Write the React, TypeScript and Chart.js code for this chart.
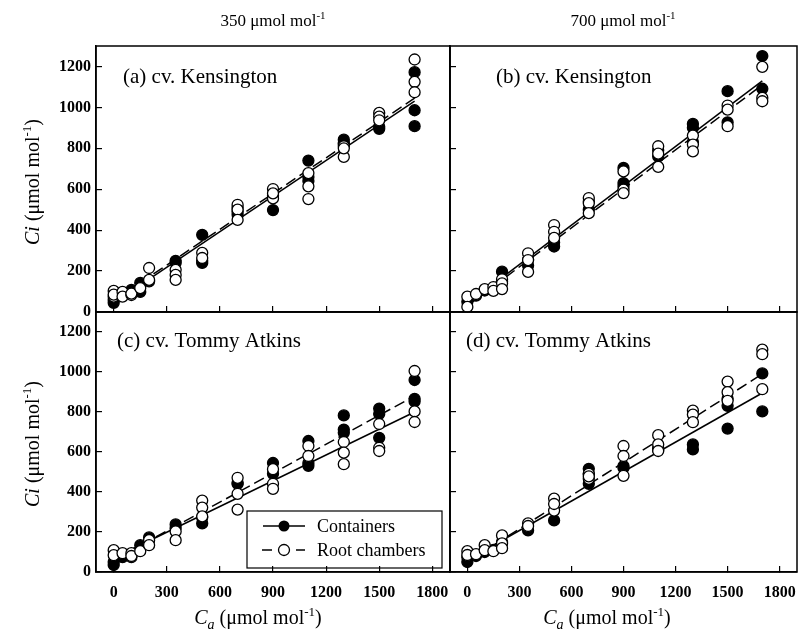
import React, { useEffect, useRef } from 'react';
import { Chart, registerables } from 'chart.js';

Chart.register(...registerables);

const W = 809;
const H = 638;
const FONT = "'Liberation Serif', 'Times New Roman', Times, serif";

// ---------- data ----------
const caLevels = [0, 50, 100, 150, 200, 350, 500, 700, 900, 1100, 1300, 1500, 1700];
const xTicks = [0, 300, 600, 900, 1200, 1500, 1800];
const yTicks = [0, 200, 400, 600, 800, 1000, 1200];
const seriesNames = ['Containers', 'Root chambers'];
const panelTitles = ['(a) cv. Kensington', '(b) cv. Kensington', '(c) cv. Tommy Atkins', '(d) cv. Tommy Atkins'];
const columnHeads = ['350', '700'];

// replicate Ci values per Ca level (same order as caLevels)
const aContainers = [[59, 45], [83], [108, 95], [142, 98], [150], [250, 240], [377, 240, 250], [475, 490, 510], [498, 570], [740, 640, 660], [842, 826, 820], [895, 905], [1172, 986, 908]];
const aRoots = [[103, 75, 85], [98, 75], [83, 90], [117], [215, 157], [206, 181, 157], [289, 264], [524, 500, 450], [601, 555, 580], [679, 614, 552], [810, 758, 800], [973, 955, 937], [1234, 1125, 1074]];
const bContainers = [[50], [80], [105], [110], [197, 150], [227, 255], [320, 340], [500, 540], [704, 630, 615], [790, 760], [919, 900, 830], [1079, 927], [1251, 1091]];
const bRoots = [[75, 25], [88], [112], [122, 103], [160, 140, 112], [287, 254, 196], [425, 392, 362], [557, 532, 483], [687, 598, 581], [810, 774, 709], [862, 818, 785], [1009, 989, 908], [1198, 1046, 1030]];
const cContainers = [[50, 35], [74], [74], [134], [173], [238, 220], [273, 243], [446, 440], [545, 491], [655, 531, 545], [783, 712, 696], [817, 790, 671], [960, 866, 853]];
const cRoots = [[109, 84], [94], [94, 80], [104], [159, 134], [203, 159], [357, 322, 278], [471, 391, 312], [514, 441, 416], [630, 580], [650, 597, 539], [740, 621, 605], [1005, 803, 750]];
const dContainers = [[74, 50], [80], [100], [110], [150], [208], [258], [516, 441, 489], [530, 520], [620, 610], [638, 613], [866, 831, 717], [993, 803]];
const dRoots = [[104, 85], [89], [134, 109], [104], [183, 143, 119], [243, 230], [367, 307, 340], [491, 466, 478], [630, 580, 481], [684, 638, 605], [807, 787, 749], [952, 899, 856], [1112, 1089, 914]];

// regression line end values at fitX
const fitX = [0, 1700];
const aFitContainers = [45, 1030];
const aFitRoots = [55, 1045];
const bFitContainers = [40, 1130];
const bFitRoots = [30, 1110];
const cFitContainers = [70, 800];
const cFitRoots = [60, 880];
const dFitContainers = [60, 895];
const dFitRoots = [50, 990];

// ---------- helpers ----------
function toPoints(reps: number[][]) {
  const pts: { x: number; y: number }[] = [];
  reps.forEach((vals, i) => vals.forEach((v) => pts.push({ x: caLevels[i], y: v })));
  return pts;
}
function toLine(ends: number[]) {
  return fitX.map((x, i) => ({ x, y: ends[i] }));
}

const panels = [
  { title: panelTitles[0], containers: aContainers, roots: aRoots, fitC: aFitContainers, fitR: aFitRoots },
  { title: panelTitles[1], containers: bContainers, roots: bRoots, fitC: bFitContainers, fitR: bFitRoots },
  { title: panelTitles[2], containers: cContainers, roots: cRoots, fitC: cFitContainers, fitR: cFitRoots },
  { title: panelTitles[3], containers: dContainers, roots: dRoots, fitC: dFitContainers, fitR: dFitRoots },
];

const layouts = [
  { left: 96, right: 450, top: 46, bottom: 312, yLabels: true, xLabels: false, dx: 27, dy: 37, legend: false },
  { left: 450, right: 797, top: 46, bottom: 312, yLabels: false, xLabels: false, dx: 46, dy: 37, legend: false },
  { left: 96, right: 450, top: 312, bottom: 572, yLabels: true, xLabels: true, dx: 21, dy: 35, legend: true },
  { left: 450, right: 797, top: 312, bottom: 572, yLabels: false, xLabels: true, dx: 16, dy: 35, legend: false },
];

const framePlugin = {
  id: 'frame',
  afterDatasetsDraw(chart: any) {
    const { ctx, chartArea: a } = chart;
    ctx.save();
    ctx.strokeStyle = '#000';
    ctx.lineWidth = 1.5;
    ctx.strokeRect(a.left, a.top, a.right - a.left, a.bottom - a.top);
    ctx.restore();
  },
};

const titlePlugin = {
  id: 'panelTitle',
  afterDraw(chart: any, _args: any, opts: any) {
    const { ctx, chartArea: a } = chart;
    ctx.save();
    ctx.font = `21px ${FONT}`;
    ctx.fillStyle = '#000';
    ctx.textBaseline = 'alphabetic';
    ctx.textAlign = 'left';
    ctx.fillText(opts.text, a.left + opts.dx, a.top + opts.dy);
    ctx.restore();
  },
};

const boxLegendPlugin = {
  id: 'boxLegend',
  afterDraw(chart: any, _args: any, opts: any) {
    if (!opts.show) return;
    const { ctx, chartArea: a } = chart;
    const bx = a.right - 203;
    const by = a.bottom - 61;
    const bw = 195;
    const bh = 57;
    ctx.save();
    ctx.strokeStyle = '#000';
    ctx.lineWidth = 1.2;
    ctx.strokeRect(bx, by, bw, bh);
    ctx.font = `18px ${FONT}`;
    ctx.fillStyle = '#000';
    ctx.textBaseline = 'middle';
    ctx.textAlign = 'left';
    // row 1: solid + filled
    const y1 = by + 15;
    ctx.lineWidth = 1.5;
    ctx.beginPath();
    ctx.moveTo(bx + 16, y1);
    ctx.lineTo(bx + 58, y1);
    ctx.stroke();
    ctx.beginPath();
    ctx.arc(bx + 37, y1, 5.5, 0, Math.PI * 2);
    ctx.fillStyle = '#000';
    ctx.fill();
    ctx.fillText(seriesNames[0], bx + 70, y1 + 1);
    // row 2: dashed + open
    const y2 = by + 39;
    ctx.beginPath();
    ctx.moveTo(bx + 15, y2);
    ctx.lineTo(bx + 25, y2);
    ctx.moveTo(bx + 49, y2);
    ctx.lineTo(bx + 58, y2);
    ctx.stroke();
    ctx.beginPath();
    ctx.arc(bx + 37, y2, 5.5, 0, Math.PI * 2);
    ctx.fillStyle = '#fff';
    ctx.fill();
    ctx.lineWidth = 1.3;
    ctx.stroke();
    ctx.fillStyle = '#000';
    ctx.fillText(seriesNames[1], bx + 70, y2 + 1);
    ctx.restore();
  },
};

const Y_W = 50;
const X_H = 40;

function buildConfig(p: any, l: any): any {
  const tickFont = { family: FONT, size: 16, weight: 'bold' };
  const grid = { drawOnChartArea: false, drawTicks: true, tickLength: -6, color: '#000', lineWidth: 1.2 };
  const border = { display: true, color: '#000', width: 1.5 };
  return {
    type: 'scatter',
    data: {
      datasets: [
        { label: seriesNames[1], data: toPoints(p.roots), pointRadius: 5.5, pointBackgroundColor: '#fff', pointBorderColor: '#000', pointBorderWidth: 1.3, showLine: false, order: 0 },
        { label: seriesNames[0], data: toPoints(p.containers), pointRadius: 5.5, pointBackgroundColor: '#000', pointBorderColor: '#000', pointBorderWidth: 1.3, showLine: false, order: 1 },
        { label: seriesNames[0] + ' fit', data: toLine(p.fitC), showLine: true, pointRadius: 0, borderColor: '#000', borderWidth: 1.5, order: 2 },
        { label: seriesNames[1] + ' fit', data: toLine(p.fitR), showLine: true, pointRadius: 0, borderColor: '#000', borderWidth: 1.5, borderDash: [11, 5], order: 3 },
      ],
    },
    options: {
      responsive: false,
      animation: false,
      devicePixelRatio: 1,
      events: [],
      layout: {
        padding: { left: l.left - Y_W, right: W - l.right, top: l.top, bottom: H - l.bottom - X_H },
      },
      plugins: {
        legend: { display: false },
        tooltip: { enabled: false },
        panelTitle: { text: p.title, dx: l.dx, dy: l.dy },
        boxLegend: { show: l.legend },
      },
      scales: {
        x: {
          type: 'linear',
          min: -100,
          max: 1900,
          afterBuildTicks: (s: any) => { s.ticks = xTicks.map((v) => ({ value: v })); },
          afterFit: (s: any) => { s.height = X_H; s.paddingLeft = 0; s.paddingRight = 0; },
          ticks: { display: l.xLabels, color: '#000', font: tickFont, padding: 17, autoSkip: false, maxRotation: 0, callback: (v: any) => String(v) },
          grid,
          border,
        },
        y: {
          type: 'linear',
          min: 0,
          max: 1300,
          afterBuildTicks: (s: any) => { s.ticks = yTicks.map((v) => ({ value: v })); },
          afterFit: (s: any) => { s.width = Y_W; s.paddingTop = 0; s.paddingBottom = 0; },
          ticks: { display: l.yLabels, color: '#000', font: tickFont, padding: 11, autoSkip: false, callback: (v: any) => String(v) },
          grid,
          border,
        },
      },
    },
    plugins: [framePlugin, titlePlugin, boxLegendPlugin],
  };
}

const supStyle: React.CSSProperties = { fontSize: '0.65em', verticalAlign: 'super', lineHeight: 0 };
const subStyle: React.CSSProperties = { fontSize: '0.7em', verticalAlign: 'sub', lineHeight: 0 };

export default function App() {
  const r0 = useRef<HTMLCanvasElement>(null);
  const r1 = useRef<HTMLCanvasElement>(null);
  const r2 = useRef<HTMLCanvasElement>(null);
  const r3 = useRef<HTMLCanvasElement>(null);
  const refs = [r0, r1, r2, r3];

  useEffect(() => {
    const charts = refs.map((r, i) => new Chart(r.current as HTMLCanvasElement, buildConfig(panels[i], layouts[i])));
    return () => charts.forEach((c) => c.destroy());
  }, []);

  const abs = (x: number, y: number, extra: React.CSSProperties = {}): React.CSSProperties => ({
    position: 'absolute', left: x, top: y, transform: 'translate(-50%,-50%)', whiteSpace: 'nowrap', lineHeight: 1, ...extra,
  });

  return (
    <div style={{ position: 'absolute', left: 0, top: 0, width: W, height: H, background: '#fff', fontFamily: FONT, color: '#000', overflow: 'hidden' }}>
      {refs.map((r, i) => (
        <canvas key={i} ref={r} width={W} height={H} style={{ position: 'absolute', left: 0, top: 0, width: W, height: H }} />
      ))}
      <div style={abs(273, 20, { fontSize: 17 })}>{columnHeads[0]} μmol mol<span style={supStyle}>-1</span></div>
      <div style={abs(623, 20, { fontSize: 17 })}>{columnHeads[1]} μmol mol<span style={supStyle}>-1</span></div>
      <div style={abs(32, 182, { fontSize: 20, transform: 'translate(-50%,-50%) rotate(-90deg)' })}><i>Ci</i> (μmol mol<span style={supStyle}>-1</span>)</div>
      <div style={abs(32, 444, { fontSize: 20, transform: 'translate(-50%,-50%) rotate(-90deg)' })}><i>Ci</i> (μmol mol<span style={supStyle}>-1</span>)</div>
      <div style={abs(258, 617, { fontSize: 20 })}><i>C<span style={subStyle}>a</span></i> (μmol mol<span style={supStyle}>-1</span>)</div>
      <div style={abs(607, 617, { fontSize: 20 })}><i>C<span style={subStyle}>a</span></i> (μmol mol<span style={supStyle}>-1</span>)</div>
    </div>
  );
}
